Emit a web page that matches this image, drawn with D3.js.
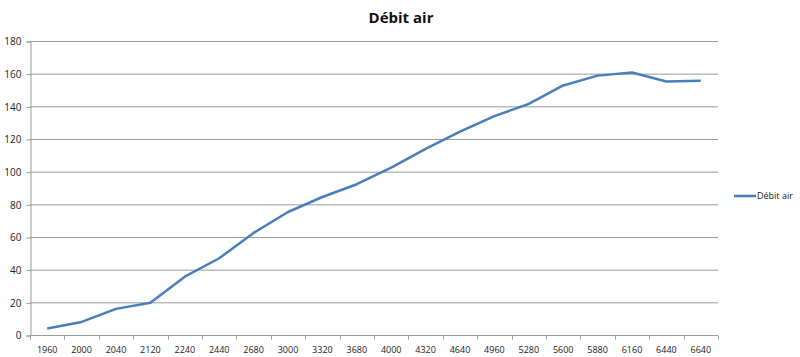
<!DOCTYPE html>
<html>
<head>
<meta charset="utf-8">
<script src="https://cdn.jsdelivr.net/npm/d3@7"></script>
<style>
  body { margin: 0; background: #fff; }
  text { font-family: "Open Sans", "DejaVu Sans", sans-serif; }
</style>
</head>
<body>
<div id="chart"></div>
<script>
var width = 800;
var height = 357;

var regimes = ["1960", "2000", "2040", "2120", "2240", "2440", "2680", "3000", "3320", "3680",
               "4000", "4320", "4640", "4960", "5280", "5600", "5880", "6160", "6440", "6640"];
var debitAir = [4, 8, 16, 19.7, 35.7, 47, 62.5, 75.3, 84.5, 92.3,
                102.5, 114, 124.5, 134, 141.5, 152.8, 158.8, 160.7, 155.2, 155.7];
var yTicks = [0, 20, 40, 60, 80, 100, 120, 140, 160, 180];
var seriesName = "Débit air";

var margin = {left: 30, right: 82, top: 41, bottom: 22};
var grey = "#9a9a9a";

var svg = d3.select("#chart")
    .append("svg")
    .attr("width", width)
    .attr("height", height);

var x = d3.scaleBand()
    .domain(regimes)
    .range([margin.left, width - margin.right]);

var y = d3.scaleLinear()
    .domain([0, 180])
    .range([height - margin.bottom, margin.top]);

// grid
svg.append("g")
    .selectAll("line")
    .data(yTicks.slice(1))
    .enter().append("line")
    .attr("x1", margin.left)
    .attr("x2", width - margin.right)
    .attr("y1", function(d){ return y(d) + 0.5; })
    .attr("y2", function(d){ return y(d) + 0.5; })
    .style("stroke", grey)
    .style("stroke-width", 1);

// y axis
var yAxis = svg.append("g")
    .attr("transform", "translate(" + (margin.left + 0.5) + ",0.5)")
    .call(d3.axisLeft(y).tickValues(yTicks).tickSize(4).tickPadding(5));
yAxis.selectAll("path, line").style("stroke", grey);
yAxis.selectAll("text").style("font-size", "10px").style("fill", "#222");

// x axis, ticks between categories
var xg = svg.append("g")
    .attr("transform", "translate(0," + (y(0) + 0.5) + ")");
xg.append("line")
    .attr("x1", margin.left)
    .attr("x2", width - margin.right)
    .style("stroke", grey);
xg.selectAll("line.tk")
    .data(regimes.concat(["end"]))
    .enter().append("line")
    .attr("class", "tk")
    .attr("x1", function(d, i){ return Math.round(margin.left + i * x.step()) + 0.5; })
    .attr("x2", function(d, i){ return Math.round(margin.left + i * x.step()) + 0.5; })
    .attr("y1", 0)
    .attr("y2", 4)
    .style("stroke", grey);
xg.selectAll("text")
    .data(regimes)
    .enter().append("text")
    .attr("x", function(d){ return x(d) + x.bandwidth() / 2; })
    .attr("y", 17)
    .attr("text-anchor", "middle")
    .style("font-size", "9px")
    .style("fill", "#222")
    .text(function(d){ return d; });

// line
var line = d3.line()
    .x(function(d, i){ return x(regimes[i]) + x.bandwidth() / 2; })
    .y(function(d){ return y(d); });

svg.append("path")
    .datum(debitAir)
    .attr("d", line)
    .style("fill", "none")
    .style("stroke", "#4a7ebb")
    .style("stroke-width", 2.5)
    .style("stroke-linejoin", "round");

// title
svg.append("text")
    .attr("x", 401)
    .attr("y", 23)
    .attr("text-anchor", "middle")
    .style("font-size", "15px")
    .style("font-weight", "bold")
    .style("fill", "#111")
    .text(seriesName);

// legend
var lg = svg.append("g").attr("transform", "translate(734,196)");
lg.append("line")
    .attr("x1", 0)
    .attr("x2", 22)
    .style("stroke", "#4a7ebb")
    .style("stroke-width", 2.5);
lg.append("text")
    .attr("x", 23)
    .attr("y", 3)
    .style("font-size", "9px")
    .style("fill", "#222")
    .text(seriesName);
</script>
</body>
</html>
